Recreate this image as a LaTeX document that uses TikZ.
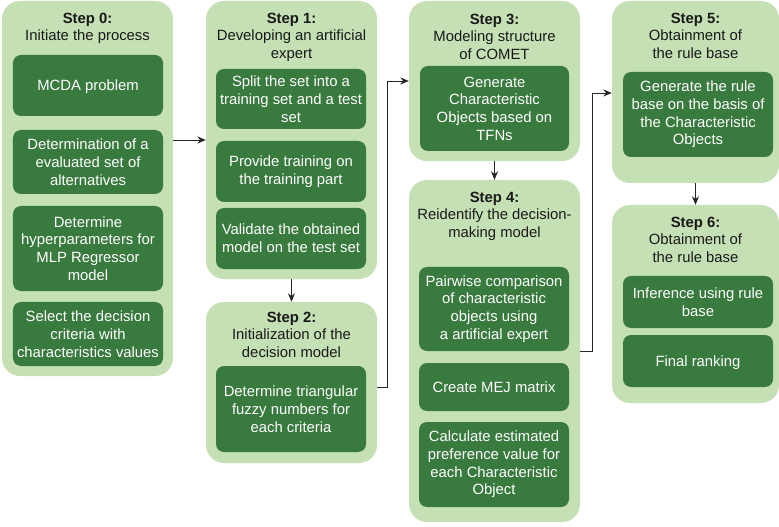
\documentclass[tikz,border=0pt]{standalone}
\usepackage{fontspec}
\setmainfont{Liberation Sans}
\usetikzlibrary{arrows.meta,calc}
\definecolor{lightg}{HTML}{C5E0B4}
\definecolor{darkg}{HTML}{397A3E}
\newcommand\dfs{\fontsize{14.9}{17.8}\selectfont}
\begin{document}
\begin{tikzpicture}[x=1bp,y=-1bp,
  outer/.style={fill=lightg, draw=none, rounded corners=18bp, inner sep=0pt},
  inbox/.style={fill=darkg, draw=none, rounded corners=8bp, text=white, align=center, inner sep=0pt, font=\dfs},
  ttl/.style={align=center, anchor=north, inner sep=0pt, font=\dfs, text=black!90},
  arr/.style={-{Stealth[length=8.5bp,width=7bp]}, line width=0.9bp, draw=black!85}]
\useasboundingbox (0,0) rectangle (779,527);
% outer step boxes
\node[outer, minimum width=171bp, minimum height=375bp] (s0) at (87.5,188.5) {};
\node[outer, minimum width=171bp, minimum height=278bp] (s1) at (291.5,140) {};
\node[outer, minimum width=171bp, minimum height=161bp] (s2) at (291.5,382.5) {};
\node[outer, minimum width=171bp, minimum height=160bp] (s3) at (494.5,81) {};
\node[outer, minimum width=171bp, minimum height=342bp] (s4) at (494.5,351) {};
\node[outer, minimum width=167bp, minimum height=182bp] (s5) at (695.5,92) {};
\node[outer, minimum width=167bp, minimum height=198bp] (s6) at (695.5,304) {};
% titles
\node[ttl] (t0) at (87.5,12.5) {\textbf{Step 0:}\\Initiate the process};
\node[ttl] (t1) at (291.5,12.5) {\textbf{Step 1:}\\Developing an artificial\\expert};
\node[ttl] (t2) at (291.5,311.5) {\textbf{Step 2:}\\Initialization of the\\decision model};
\node[ttl] (t3) at (494.5,13.5) {\textbf{Step 3:}\\Modeling structure\\of COMET};
\node[ttl] (t4) at (494.5,191.5) {\textbf{Step 4:}\\Reidentify the decision-\\making model};
\node[ttl] (t5) at (695.5,12.5) {\textbf{Step 5:}\\Obtainment of\\the rule base};
\node[ttl] (t6) at (695.5,216.5) {\textbf{Step 6:}\\Obtainment of\\the rule base};
% step 0 inner
\node[inbox, text depth=0pt, minimum width=150bp, minimum height=61bp] (a1) at (88,85.5) {MCDA problem};
\node[inbox, minimum width=150bp, minimum height=64bp] (a2) at (88,162) {Determination of a\\evaluated set of\\alternatives};
\node[inbox, minimum width=150bp, minimum height=85bp] (a3) at (88,248.5) {Determine\\hyperparameters for\\MLP Regressor\\model};
\node[inbox, minimum width=150bp, minimum height=64bp] (a4) at (88,334) {Select the decision\\criteria with\\characteristics values};
% step 1 inner
\node[inbox, minimum width=150bp, minimum height=60bp] (b1) at (291,99) {Split the set into a\\training set and a test\\set};
\node[inbox, minimum width=150bp, minimum height=61bp] (b2) at (291,171.5) {Provide training on\\the training part};
\node[inbox, minimum width=150bp, minimum height=61bp] (b3) at (291,238.5) {Validate the obtained\\model on the test set};
% step 2 inner
\node[inbox, minimum width=150bp, minimum height=86bp] (c1) at (291,409) {Determine triangular\\fuzzy numbers for\\each criteria};
% step 3 inner
\node[inbox, minimum width=149bp, minimum height=85bp] (d1) at (494.5,108.5) {Generate\\Characteristic\\Objects based on\\TFNs};
% step 4 inner
\node[inbox, minimum width=150bp, minimum height=84bp] (e1) at (494,309) {Pairwise comparison\\of characteristic\\objects using\\a artificial expert};
\node[inbox, minimum width=150bp, minimum height=48bp] (e2) at (494,387) {Create MEJ matrix};
\node[inbox, minimum width=150bp, minimum height=85bp] (e3) at (494,464.5) {Calculate estimated\\preference value for\\each Characteristic\\Object};
% step 5 inner
\node[inbox, minimum width=150bp, minimum height=85bp] (f1) at (698,114.5) {Generate the rule\\base on the basis of\\the Characteristic\\Objects};
% step 6 inner
\node[inbox, minimum width=150bp, minimum height=52bp] (g1) at (698,302) {Inference using rule\\base};
\node[inbox, text depth=0pt, minimum width=150bp, minimum height=52bp] (g2) at (698,361) {Final ranking};
% connectors
\draw[arr] (s0.east |- s1.west) -- (s1.west);
\draw[arr] (s1.south) -- (s2.north);
\draw[arr] ($(s2.east)+(0,4.5)$) -- ++(10,0) |- (s3.west);
\draw[arr] (s3.south) -- (s4.north);
\draw[arr] (s4.east) -- ++(12,0) |- ($(s5.west)+(0,1)$);
\draw[arr] (s5.south) -- (s6.north);
\end{tikzpicture}
\end{document}
